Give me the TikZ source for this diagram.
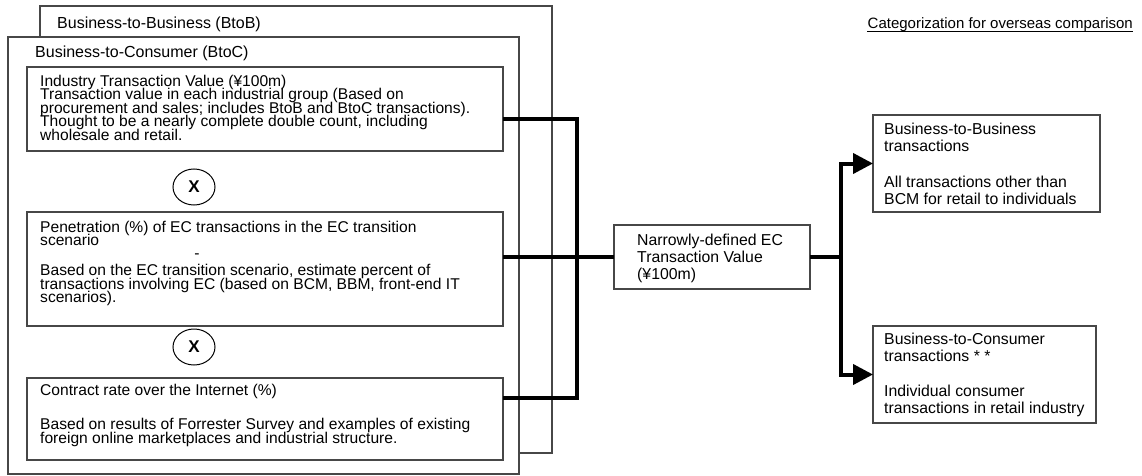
\documentclass[tikz,border=0pt]{standalone}
\usepackage{fontspec}
\setmainfont{Liberation Sans}
\usetikzlibrary{arrows.meta,shapes.geometric}
% fixed line pitch inside multi-line text blocks
\newcommand\fixedpitch{\setlength{\lineskiplimit}{-20pt}}
\begin{document}
\begin{tikzpicture}[x=1pt,y=-1pt,
  frame/.style={draw=black!72, line width=1.1pt, fill=white, rectangle,
    inner sep=0pt, outer sep=0pt, anchor=north west},
  body/.style={anchor=north west, inner sep=0pt, align=left,
    font={\fontsize{15.6}{13.5}\selectfont\fixedpitch}},
  side/.style={anchor=north west, inner sep=0pt, align=left,
    font={\fontsize{15.8}{17}\selectfont\fixedpitch}},
  head/.style={anchor=north west, inner sep=0pt, font={\fontsize{16}{18}\selectfont}},
  times/.style={ellipse, draw, line width=1pt, minimum width=42pt,
    minimum height=36pt, inner sep=0pt, font={\fontsize{17}{18}\selectfont\bfseries}},
  bus/.style={line width=4pt, line join=miter},
  tip/.style={-{Triangle[length=20pt,width=20pt]}},
]
\useasboundingbox (0,0) rectangle (1142,476);

% stacked category frames
\node[frame, minimum width=512pt, minimum height=447pt] (btob) at (40,6) {};
\node[head] (btobl) at (57,16.5) {Business-to-Business (BtoB)};
\node[frame, minimum width=511pt, minimum height=437pt] (btoc) at (8,37) {};
\node[head] (btocl) at (35,45.5) {Business-to-Consumer (BtoC)};

% the three factors
\node[frame, minimum width=476pt, minimum height=84pt] (ind) at (27,67) {};
\node[body] (indt) at (40,74.5) {Industry Transaction Value (¥100m)\\
Transaction value in each industrial group (Based on\\
procurement and sales; includes BtoB and BtoC transactions).\\
Thought to be a nearly complete double count, including\\
wholesale and retail.};

\node[times] (x1) at (194,187) {X};

\node[frame, minimum width=476pt, minimum height=114pt] (pen) at (27,212) {};
\node[body] (pent) at (40,220.5) {Penetration (\%) of EC transactions in the EC transition\\
scenario\\[16.5pt]
Based on the EC transition scenario, estimate percent of\\
transactions involving EC (based on BCM, BBM, front-end IT\\
scenarios).};
\node[inner sep=0pt, font={\fontsize{15.6}{13.5}\selectfont}] (dash) at (197,256.5) {-};

\node[times] (x2) at (194,347) {X};

\node[frame, minimum width=476pt, minimum height=82pt] (con) at (27,378) {};
\node[body] (cont) at (40,384) {Contract rate over the Internet (\%)\\[20.5pt]
Based on results of Forrester Survey and examples of existing\\
foreign online marketplaces and industrial structure.};

% result
\node[frame, minimum width=196pt, minimum height=64pt] (narrow) at (614,225) {};
\node[side] (narrowt) at (637,233.7) {Narrowly-defined EC\\Transaction Value\\(¥100m)};

% categories for comparison
\node[anchor=base east, inner sep=0pt, font={\fontsize{15}{17}\selectfont}] (cat) at (1133,29)
  {Categorization for overseas comparison};
\draw[line width=0.9pt] ([yshift=-2pt]cat.base west) -- ([yshift=-2pt]cat.base east);

\node[frame, minimum width=227pt, minimum height=97pt] (b2b) at (873,115) {};
\node[side] (b2bt) at (884,122.7) {Business-to-Business\\transactions\\[19pt]
All transactions other than\\BCM for retail to individuals};

\node[frame, minimum width=223pt, minimum height=97pt] (b2c) at (873,326) {};
\node[side] (b2ct) at (884,332.7) {Business-to-Consumer\\transactions * *\\[18pt]
Individual consumer\\transactions in retail industry};

% connectors
\coordinate (busT) at (577,119);
\coordinate (busB) at (577,398);
\draw[bus] ([yshift=-10pt]ind.east) -- (busT) -- (busB) -- ([yshift=21pt]con.east);
\draw[bus] ([yshift=12pt]pen.east) -- (narrow.west);

\coordinate (fork) at (841,257);
\draw[bus] (narrow.east) -- (fork);
\draw[bus, tip] (fork) |- (b2b.west);
\draw[bus, tip] (fork) |- (b2c.west);
\end{tikzpicture}
\end{document}
